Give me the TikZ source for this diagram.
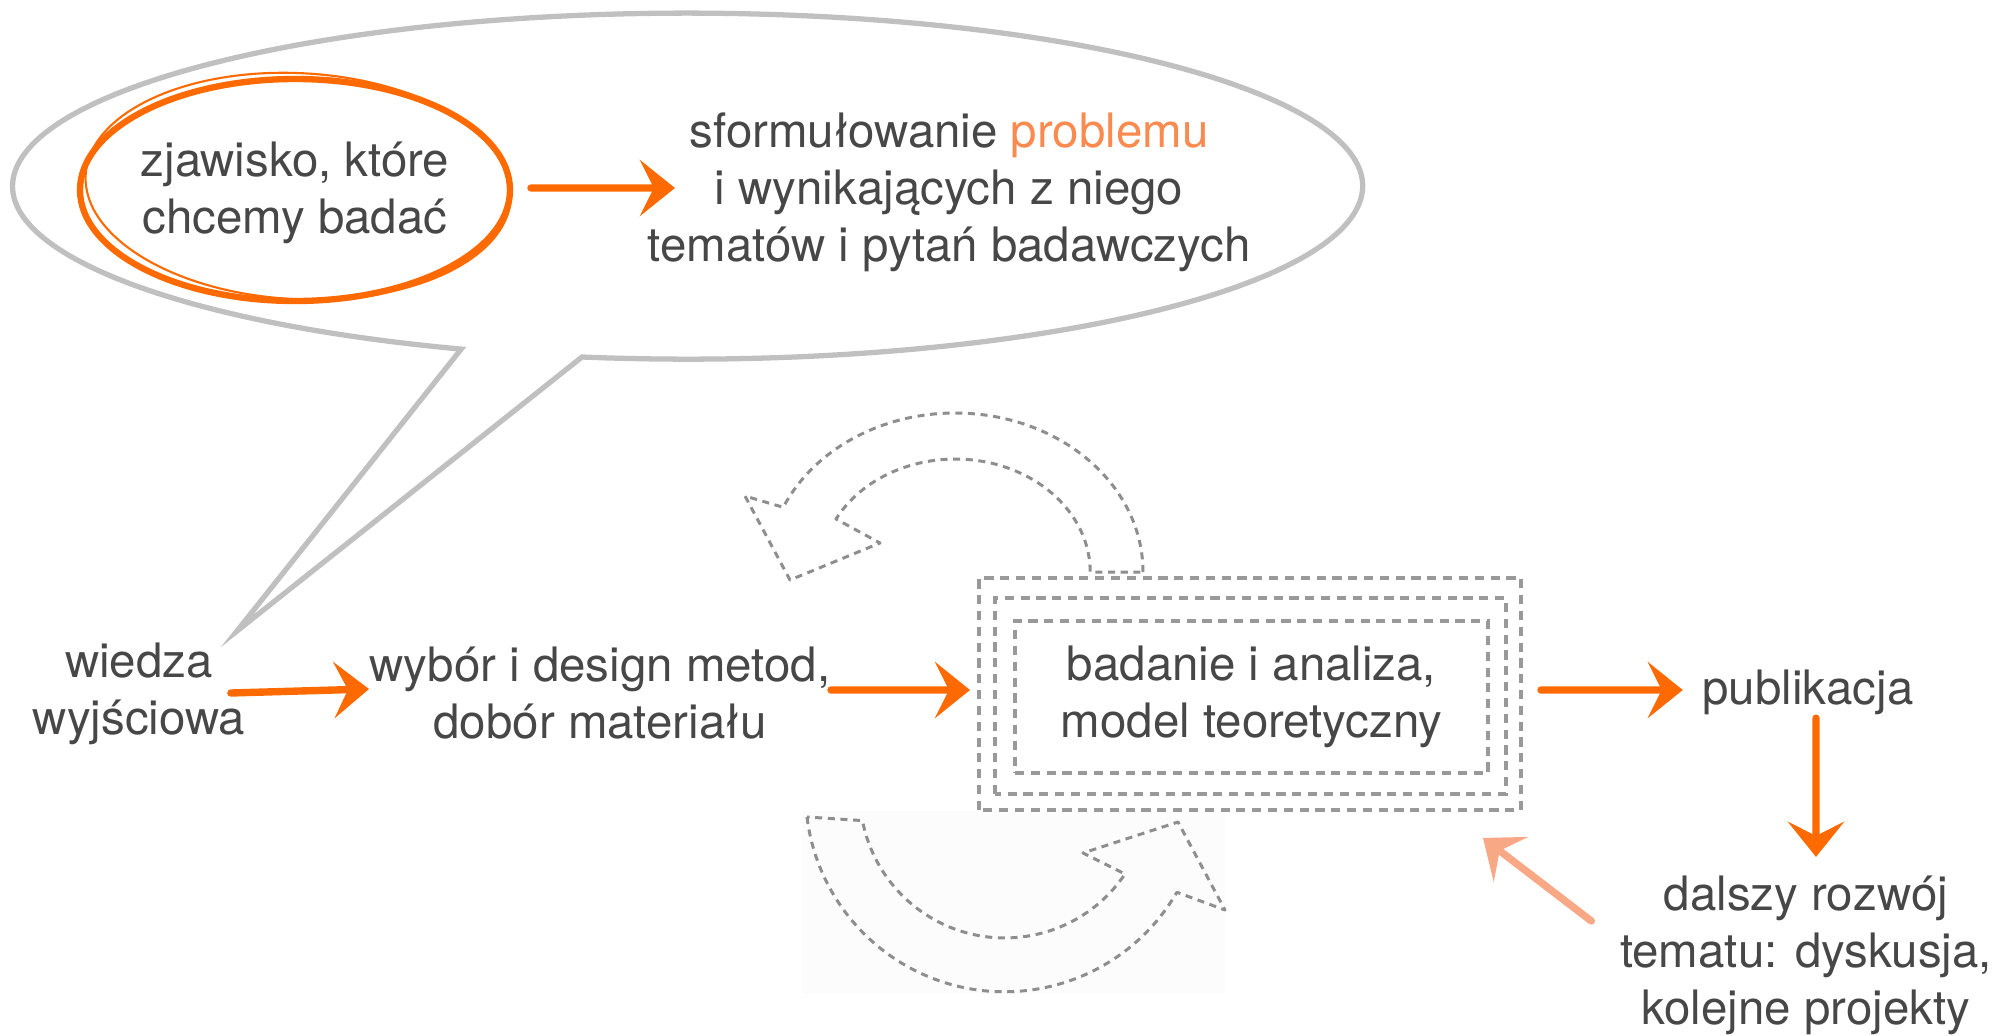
\documentclass[tikz,border=0pt]{standalone}
\usepackage{fontspec}
\setmainfont{TeX Gyre Heros}
\usetikzlibrary{arrows.meta, calc, positioning}

\definecolor{txtgray}{HTML}{474747}
\definecolor{brushorange}{HTML}{FF6A00}
\definecolor{problemorange}{HTML}{FA8A4E}
\definecolor{salmonarrow}{HTML}{F9A886}
\definecolor{bubblegray}{HTML}{C0C0C0}
\definecolor{boxgray}{HTML}{999999}
\definecolor{loopgray}{HTML}{8E8E8E}

\tikzset{
  txt/.style={text=txtgray, align=center, inner sep=0pt, font=\fontsize{13.5}{16.2}\selectfont},
  brush/.style={brushorange, line width=2.1pt, line cap=round, -{Stealth[length=10pt, width=16pt, inset=4pt]}},
  dashbox/.style={draw=boxgray, line width=1.1pt, dash pattern=on 2.6pt off 1.9pt},
  loopline/.style={draw=loopgray, line width=0.85pt, dash pattern=on 2pt off 1.6pt, line join=round}
}

\begin{document}
\begin{tikzpicture}
  \useasboundingbox (0,0) rectangle (20.11,10.35);
  \fill[black!1] (8.02,0.41) rectangle (12.25,2.24);

  % speech bubble
  \draw[bubblegray, line width=1.5pt]
    (5.82,6.78) arc[start angle=261, end angle=610.4, x radius=6.75, y radius=1.73]
    -- (2.37,4.04) -- cycle;

  % texts
  \node[txt] (zjawisko) at (2.95,8.42) {zjawisko, które\\chcemy badać};
  \node[txt] (problem) at (9.49,8.43)
    {sformułowanie {\color{problemorange}problemu}\\i wynikających z niego\\tematów i pytań badawczych};
  \node[txt] (wiedza) at (1.39,3.41) {wiedza\\wyjściowa};
  \node[txt] (wybor) at (6.00,3.42) {wybór i design metod,\\dobór materiału};
  \node[txt, dashbox, minimum width=4.73cm, minimum height=1.52cm]
    (badanie) at (12.515,3.38) {badanie i analiza,\\model teoretyczny};
  \node[txt] (publikacja) at (18.08,3.43) {publikacja};
  \node[txt] (dalszy) at (18.06,0.80) {dalszy rozwój\\tematu: dyskusja,\\kolejne projekty};

  % orange ring, drawn twice for a hand-made look
  \draw[brushorange, line width=1.8pt] ($(zjawisko)+(0,0.03)$) ellipse[x radius=2.15, y radius=1.11];
  \draw[brushorange, line width=0.6pt, rotate around={-3:(zjawisko)}]
    ($(zjawisko)+(0.03,0.07)$) ellipse[x radius=2.13, y radius=1.13];

  % dashed frames around the analysis box
  \draw[dashbox] ($(badanie.south west)+(-0.18,-0.19)$) rectangle ($(badanie.north east)+(0.16,0.21)$);
  \draw[dashbox] ($(badanie.south west)+(-0.34,-0.35)$) rectangle ($(badanie.north east)+(0.31,0.41)$);

  % cycle arrows
  \draw[loopline] (11.43,4.63) arc[start angle=0, end angle=156, x radius=1.88, y radius=1.59]
    -- (7.45,5.39) -- (7.90,4.55) -- (8.80,4.92) -- (8.36,5.16)
    arc[start angle=152, end angle=0, x radius=1.35, y radius=1.13] -- cycle;
  \draw[loopline] (8.07,2.18) arc[start angle=-173, end angle=-30, radius=1.99]
    -- (12.25,1.25) -- (11.78,2.13) -- (10.83,1.82) -- (11.25,1.61)
    arc[start angle=-34, end angle=-169, radius=1.45] -- cycle;

  % arrows
  \draw[brush] ([xshift=8.1mm,yshift=0.5mm]zjawisko.east) -- ([xshift=2.8mm,yshift=0.4mm]problem.west);
  \draw[brush] ([xshift=-1.5mm,yshift=0.1mm]wiedza.east) -- ([yshift=0.4mm]wybor.west);
  \draw[brush] ([yshift=0.3mm]wybor.east) -- ([xshift=-4.3mm,yshift=0.7mm]badanie.west);
  \draw[brush] ([xshift=5.1mm,yshift=0.7mm]badanie.east) -- ([xshift=-1.9mm,yshift=0.2mm]publikacja.west);
  \draw[brush] ([xshift=0.8mm,yshift=-0.3mm]publikacja.south) -- ([xshift=1mm,yshift=1.8mm]dalszy.north);
  \draw[brush, salmonarrow] ([xshift=-2.8mm,yshift=3.4mm]dalszy.west) -- ($(badanie.south east)+(-0.07,-0.63)$);
\end{tikzpicture}
\end{document}
